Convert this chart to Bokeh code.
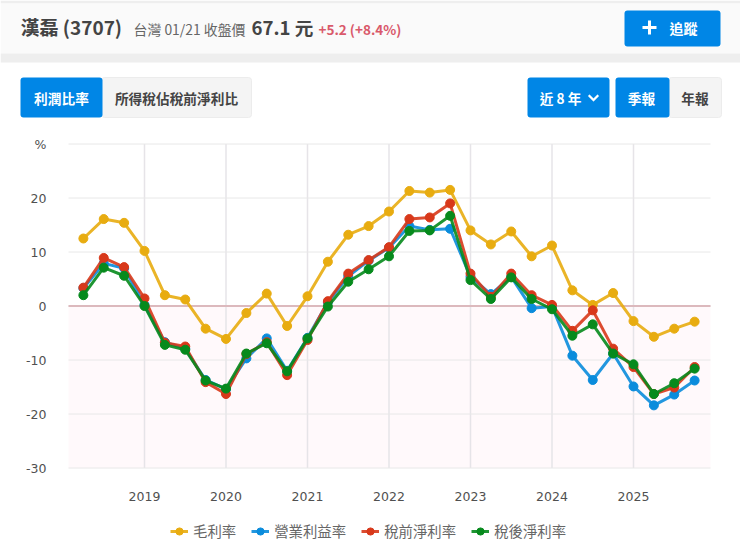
from bokeh.embed import file_html
from bokeh.models import BoxAnnotation, FixedTicker, Label, Legend, LegendItem, PolyAnnotation, Range1d
from bokeh.plotting import figure
from bokeh.resources import INLINE

# 季報資料 2018Q2 ~ 2025Q4
quarters = [2018.25 + i * 0.25 for i in range(31)]
gross = [12.5, 16.1, 15.4, 10.2, 2.0, 1.2, -4.2, -6.1, -1.3, 2.3, -3.7, 1.8, 8.2, 13.2, 14.8, 17.5,
         21.3, 21.0, 21.5, 14.0, 11.4, 13.8, 9.2, 11.2, 2.9, 0.2, 2.4, -2.8, -5.7, -4.2, -2.9]
operating = [3.3, 7.9, 7.0, 0.2, -6.7, -7.9, -13.7, -15.4, -9.7, -6.0, -12.0, -5.9, 0.7, 5.5, 8.4, 10.8,
             14.8, 14.1, 14.3, 5.4, 2.2, 5.4, -0.4, -0.1, -9.2, -13.7, -8.8, -14.9, -18.4, -16.4, -13.8]
pretax = [3.4, 8.9, 7.2, 1.4, -6.8, -7.5, -14.1, -16.3, -8.9, -6.7, -12.8, -6.3, 0.9, 6.0, 8.5, 10.9,
          16.1, 16.4, 19.0, 6.0, 1.7, 6.0, 2.0, 0.2, -4.6, -0.8, -7.9, -11.3, -16.3, -15.1, -11.3]
net = [2.0, 7.1, 5.6, 0.0, -7.2, -8.1, -13.8, -15.3, -8.8, -6.9, -12.1, -6.0, -0.1, 4.5, 6.8, 9.2,
       13.9, 14.0, 16.7, 4.8, 1.3, 5.3, 1.3, -0.6, -5.5, -3.4, -8.8, -10.8, -16.3, -14.3, -11.6]

series_names = ["毛利率", "營業利益率", "稅前淨利率", "稅後淨利率"]
series_values = [gross, operating, pretax, net]
series_colors = ["#e8ac10", "#0a8cdc", "#d8381a", "#068a1c"]
year_ticks = [2019, 2020, 2021, 2022, 2023, 2024, 2025]
value_ticks = [-30, -20, -10, 0, 10, 20, 30]

CJK = "Noto Sans CJK TC"
BLUE = "#0086e6"

# frame 佔滿整張圖, 這樣標題列跟按鈕才不會被切掉
W, H = 740, 555
PX_YEAR = 81.5    # 一年的寬度
PX_UNIT = 5.4     # 1% 的高度
X2019, Y0 = 144, 305.5
x_left = 2019 - (X2019 - 68) / PX_YEAR
x_right = 2019 + (710 - X2019) / PX_YEAR

p = figure(width=W, height=H, output_backend="svg", toolbar_location=None,
           x_range=Range1d(2019 - X2019 / PX_YEAR, 2019 + (W - X2019) / PX_YEAR),
           y_range=Range1d(-(H - Y0) / PX_UNIT, Y0 / PX_UNIT),
           min_border_left=0, min_border_right=0, min_border_top=0, min_border_bottom=0)
p.outline_line_color = None
p.background_fill_color = "white"
p.border_fill_color = "white"
p.grid.visible = False

p.xaxis.ticker = FixedTicker(ticks=year_ticks)
p.yaxis.ticker = FixedTicker(ticks=value_ticks)
p.xaxis.major_label_overrides = {y: str(y) for y in year_ticks}
p.yaxis.major_label_overrides = {v: ("%" if v == 30 else str(v)) for v in value_ticks}
p.xaxis.fixed_location = -30
p.yaxis.fixed_location = x_left
for ax in (p.xaxis[0], p.yaxis[0]):
    ax.axis_line_color = None
    ax.major_tick_line_color = None
    ax.minor_tick_line_color = None
    ax.major_label_text_font = "DejaVu Sans"
    ax.major_label_text_font_size = "12.5px"
    ax.major_label_text_color = "#505050"
p.xaxis.major_label_standoff = 18
p.yaxis.major_label_standoff = 16

p.add_layout(BoxAnnotation(left=x_left, right=x_right, bottom=-30, top=0, fill_color="#fff9fb", fill_alpha=1,
                           line_alpha=0, level="underlay"))
p.segment(year_ticks, -30, year_ticks, 30, line_color="#e6e4e8", line_width=1.5)
p.segment(x_left, value_ticks, x_right, value_ticks, line_color="#e8e8e8", line_width=1)
p.segment(x_left, 0, x_right, 0, line_color="#dcb9bd", line_width=2)

items = []
for name, values, color in zip(series_names, series_values, series_colors):
    ln = p.line(quarters, values, line_color=color, line_width=3, line_alpha=0.9)
    dots = p.scatter(quarters, values, size=9, fill_color=color, line_color=color)
    items.append(LegendItem(label=name, renderers=[ln, dots]))

legend = Legend(items=items, orientation="horizontal", location=(170, 14), border_line_color=None,
                background_fill_alpha=0, label_text_font=CJK, label_text_font_size="14.4px",
                label_text_color="#666666", glyph_width=18, glyph_height=20, spacing=15,
                label_standoff=5, padding=0, margin=0)
p.add_layout(legend)


# 頁面上的按鈕與標題: 座標都是截圖座標
def box(x0, y0, x1, y1, color, line=None, radius=0):
    p.add_layout(BoxAnnotation(left=x0, right=x1, top=y0, bottom=y1,
                               left_units="canvas", right_units="canvas", top_units="canvas", bottom_units="canvas",
                               fill_color=color, fill_alpha=1, line_color=line, line_alpha=1 if line else 0,
                               border_radius=radius))


def text(x, y, s, size, color, bold=False, align="left"):
    p.add_layout(Label(x=x, y=y, x_units="canvas", y_units="canvas", text=s, text_font=CJK,
                       text_font_size=f"{size}px", text_color=color,
                       text_font_style="bold" if bold else "normal",
                       text_align=align, text_baseline="middle"))


box(0, 0, 740, 3, "#eeeeee")
box(0, 3, 740, 53, "#fafafa")
box(0, 53, 740, 62, "#eeeeee")

text(20, 26, "漢磊 (3707)", 19, "#444444", bold=True)
text(133, 28, "台灣 01/21 收盤價", 13.9, "#666666")
text(251, 26, "67.1 元", 18.6, "#444444", bold=True)
text(318, 28, "+5.2 (+8.4%)", 13.5, "#d9596a", bold=True)

box(624, 10, 720, 46, BLUE, radius=3)
box(642, 25.5, 656, 28.5, "white")
box(647.5, 20, 650.5, 34, "white")
text(683, 27, "追蹤", 14, "white", bold=True, align="center")

box(101, 77, 251, 117, "#f4f4f4", line="#ececec", radius=3)
box(20, 77, 102, 117, BLUE, radius=3)
text(61, 97, "利潤比率", 13.7, "white", bold=True, align="center")
text(176, 97, "所得稅佔稅前淨利比", 13.7, "#444444", bold=True, align="center")

box(527, 77, 609, 117, BLUE, radius=3)
text(560, 97, "近 8 年", 13.7, "white", bold=True, align="center")
p.add_layout(PolyAnnotation(xs=[589, 593, 597, 598.5, 593, 587.5], ys=[94, 98, 94, 95.5, 101, 95.5],
                            xs_units="canvas", ys_units="canvas", fill_color="white", fill_alpha=1,
                            line_color="white", line_width=0.5))

box(668, 77, 721, 117, "#f4f4f4", line="#ececec", radius=3)
box(615, 77, 669, 117, BLUE, radius=3)
text(641, 97, "季報", 13.7, "white", bold=True, align="center")
text(694.5, 97, "年報", 13.7, "#444444", bold=True, align="center")

open("out.html", "w").write(file_html(p, INLINE))
